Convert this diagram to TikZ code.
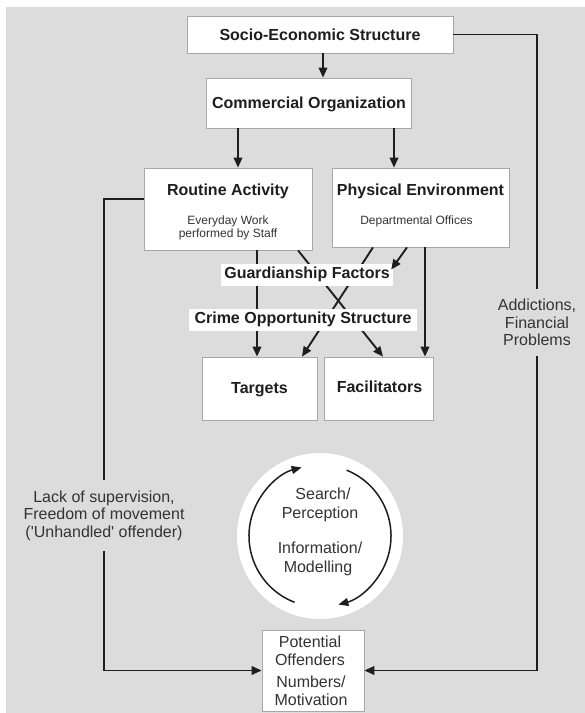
\documentclass[tikz,border=0pt]{standalone}
\usepackage{fontspec}
\setmainfont{Liberation Sans}
\usetikzlibrary{arrows.meta,calc}
\definecolor{bg}{HTML}{DCDCDC}
\definecolor{ink}{HTML}{1E1E1E}
\definecolor{txt}{HTML}{333333}
\definecolor{edge}{HTML}{A8A8A8}
\tikzset{
  box/.style={draw=edge,line width=0.7pt,fill=white,inner sep=0pt},
  ttl/.style={font=\fontsize{16}{18}\selectfont\bfseries,text=ink,inner sep=0pt,anchor=base},
  sub/.style={font=\fontsize{12}{13}\selectfont,text=txt,inner sep=0pt,anchor=base},
  reg/.style={font=\fontsize{16}{18}\selectfont,text=txt,inner sep=0pt,anchor=base},
  lbl/.style={font=\fontsize{16}{17.5}\selectfont,text=txt,align=center,fill=bg,inner xsep=2pt,inner ysep=10pt},
  wlbl/.style={font=\fontsize{16}{18}\selectfont\bfseries,text=ink,fill=white,inner ysep=3.5pt,anchor=base},
  conn/.style={draw=ink,line width=1.9pt,-{Triangle[length=10pt,width=8.5pt]}},
  plain/.style={draw=ink,line width=1.9pt},
  arcconn/.style={draw=ink,line width=1.5pt,-{Triangle[length=10pt,width=8pt]}},
}
\begin{document}
\begin{tikzpicture}[x=1pt,y=1pt]
\useasboundingbox (0,0) rectangle (585,713);
\fill[bg] (6,0) rectangle (585,706);

% helper coordinates
\coordinate (xa) at (323,0);
\coordinate (xb) at (238,0);
\coordinate (xc) at (394,0);
\coordinate (xd) at (257,0);
\coordinate (xe) at (425,0);
\coordinate (xf1) at (298,0);
\coordinate (xf2) at (383,0);
\coordinate (xg1) at (373,0);
\coordinate (xg2) at (302,0);
\coordinate (xh) at (407,0);
\coordinate (xl) at (104,0);
\coordinate (xr) at (537,0);
\coordinate (yl) at (0,514);

% boxes
\node[box,minimum width=266pt,minimum height=37pt] (socio) at (320,678.5) {};
\node[box,minimum width=205pt,minimum height=50pt] (commercial) at (308.5,610) {};
\node[box,minimum width=168pt,minimum height=82pt] (routine) at (228,504) {};
\node[box,minimum width=177pt,minimum height=79pt] (physical) at (420.5,505.5) {};
\node[box,minimum width=115pt,minimum height=63pt] (targets) at (259.5,324.5) {};
\node[box,minimum width=109pt,minimum height=63pt] (facilitators) at (378.5,324.5) {};
\node[circle,fill=white,minimum size=166pt,inner sep=0pt] (cyc) at (320,177) {};
\node[box,minimum width=102pt,minimum height=81pt] (potential) at (313,42.5) {};

% side labels
\node[lbl] (lack) at (104,197.5) {Lack of supervision,\\Freedom of movement\\({\textquotesingle}Unhandled{\textquotesingle} offender)};
\node[lbl] (addict) at (537,390.5) {Addictions,\\Financial\\Problems};

% connectors
\draw[conn] (socio.south -| xa) -- (commercial.north -| xa);
\draw[conn] (commercial.south -| xb) -- (routine.north -| xb);
\draw[conn] (commercial.south -| xc) -- (physical.north -| xc);
\draw[conn] (routine.south -| xd) -- (targets.north -| xd);
\draw[conn] (routine.south -| xf1) -- (facilitators.north -| xf2);
\draw[conn] (physical.south -| xg1) -- (targets.north -| xg2);
\draw[conn] (physical.south -| xe) -- (facilitators.north -| xe);
\draw[plain] (routine.west |- yl) -- (xl |- yl) -- (lack.north);
\draw[conn] (lack.south) -- (lack.south |- potential.west) -- (potential.west);
\draw[plain] (socio.east) -- (socio.east -| xr) -- (addict.north);
\draw[conn] (addict.south) -- (addict.south |- potential.east) -- (potential.east);

% overlay labels
\node[wlbl] (guard) at (307,434.3) {Guardianship Factors};
\node[wlbl,inner xsep=6pt] (crime) at (303,389.3) {Crime Opportunity Structure};
\draw[conn] (physical.south -| xh) -- ([yshift=5pt,xshift=-2pt]guard.east);

% circle arcs
\draw[arcconn] ([shift={(249:71pt)}]cyc.center) arc[start angle=249,end angle=105,radius=71pt];
\draw[arcconn] ([shift={(68:71pt)}]cyc.center) arc[start angle=68,end angle=-75,radius=71pt];

% texts
\node[ttl] (tsocio) at (320,672.3) {Socio-Economic Structure};
\node[ttl] (tcomm) at (309,604.5) {Commercial Organization};
\node[ttl] (troutine) at (228,517.3) {Routine Activity};
\node[sub] (troutine1) at (228,488.7) {Everyday Work};
\node[sub] (troutine2) at (228,475.7) {performed by Staff};
\node[ttl] (tphys) at (420.5,517.3) {Physical Environment};
\node[sub] (tphys1) at (416.5,488.7) {Departmental Offices};
\node[ttl] (ttargets) at (259.5,319.3) {Targets};
\node[ttl] (tfacil) at (379.5,320.3) {Facilitators};
\node[reg] (tsearch) at (323,213.3) {Search/};
\node[reg] (tperc) at (320,194.3) {Perception};
\node[reg] (tinfo) at (320,159.3) {Information/};
\node[reg] (tmodel) at (318,140.3) {Modelling};
\node[reg] (tpot1) at (310,65.3) {Potential};
\node[reg] (tpot2) at (310,47.3) {Offenders};
\node[reg] (tpot3) at (311,25.3) {Numbers/};
\node[reg] (tpot4) at (311,7.3) {Motivation};
\end{tikzpicture}
\end{document}
